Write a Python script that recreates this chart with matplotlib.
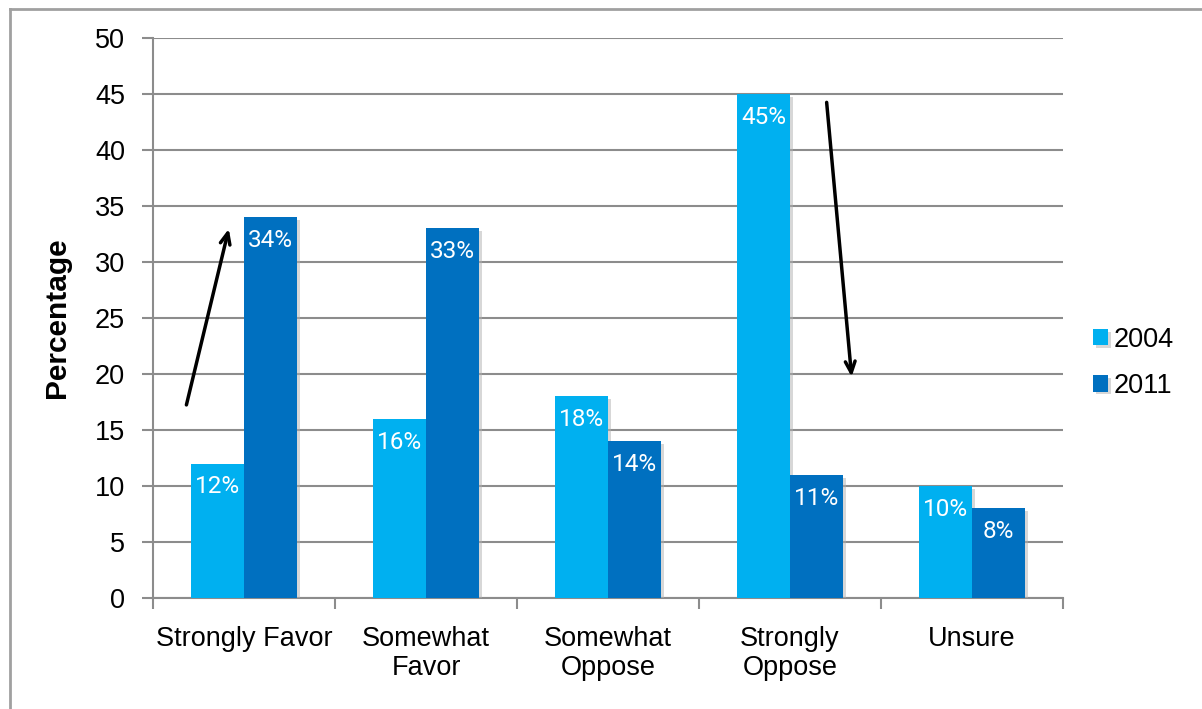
import matplotlib.pyplot as plt
import matplotlib.patheffects as pe
from matplotlib import font_manager
from matplotlib.lines import Line2D
import numpy as np

categories = ['Strongly Favor', 'Somewhat\nFavor', 'Somewhat\nOppose', 'Strongly\nOppose', 'Unsure']
vals_2004 = [12, 16, 18, 45, 10]
vals_2011 = [34, 33, 14, 11, 8]
labels_2004 = ['12%', '16%', '18%', '45%', '10%']
labels_2011 = ['34%', '33%', '14%', '11%', '8%']
yticks = [0, 5, 10, 15, 20, 25, 30, 35, 40, 45, 50]

# trend arrows (start, end) in data coords
arrows = [((-0.32, 17.0), (-0.08, 33.2)),
          ((3.20, 44.5), (3.34, 19.5))]

c2004 = '#00b0f0'
c2011 = '#0070c0'
grid_c = '#8c8c8c'

# pick a narrow font for the bar labels if there is one
names = set(f.name for f in font_manager.fontManager.ttflist)
narrow = 'Liberation Sans Narrow' if 'Liberation Sans Narrow' in names else 'Roboto'
base = 'Liberation Sans'

fig = plt.figure(figsize=(12.02, 7.09), dpi=100)
ax = fig.add_axes([153/1202, 1-598/709, 910/1202, 560/709])

# outer frame (only left and top edges are in view)
fig.add_artist(Line2D([10/1202, 10/1202], [0, 1-9/709], transform=fig.transFigure,
                      color='#a0a0a0', linewidth=2))
fig.add_artist(Line2D([10/1202, 1], [1-9/709, 1-9/709], transform=fig.transFigure,
                      color='#a0a0a0', linewidth=2))

x = np.arange(len(categories))
w = 0.29
shadow = [pe.SimplePatchShadow(offset=(2, -2), shadow_rgbFace='#b0b0b0', alpha=0.5), pe.Normal()]
b1 = ax.bar(x - w/2, vals_2004, w, color=c2004, label='2004', zorder=3, path_effects=shadow)
b2 = ax.bar(x + w/2, vals_2011, w, color=c2011, label='2011', zorder=3, path_effects=shadow)

for bars, labs in ((b1, labels_2004), (b2, labels_2011)):
    for r, t in zip(bars, labs):
        ax.annotate(t, (r.get_x() + r.get_width()/2, r.get_height()), xytext=(0, -8.5),
                    textcoords='offset points', ha='center', va='top', zorder=4,
                    family=[narrow, 'DejaVu Sans'], color='white', fontsize=17.5)

for (s, e) in arrows:
    ax.annotate('', xy=e, xytext=s, zorder=5,
                arrowprops=dict(arrowstyle='->,head_length=0.8,head_width=0.35', color='black', lw=2.5))

ax.set_xlim(-0.5, 4.5)
ax.set_ylim(0, 50)
ax.set_yticks(yticks)
ax.yaxis.grid(True, color=grid_c, linewidth=1.5, zorder=0)
ax.set_axisbelow(True)
for s in ['top', 'right']:
    ax.spines[s].set_visible(False)
for s in ['left', 'bottom']:
    ax.spines[s].set_color(grid_c)
    ax.spines[s].set_linewidth(1.5)

ax.set_xticks(np.arange(-0.5, 5, 1), minor=False)
ax.set_xticklabels([])
ax.set_xticks(x, minor=True)
ax.set_xticklabels(categories, minor=True, fontsize=19.5, family=base, linespacing=1.15)
ax.tick_params(axis='x', which='minor', length=0, pad=20)
ax.tick_params(axis='x', which='major', length=8, color=grid_c, width=1.5)
ax.tick_params(axis='y', length=8, color=grid_c, width=1.5, labelsize=19.5, pad=12)
for t in ax.get_yticklabels():
    t.set_family(base)

ax.set_ylabel('Percentage', fontsize=21.5, fontweight='bold', family=base, labelpad=17)

ax.legend(loc='center left', bbox_to_anchor=(1.033, 0.42), frameon=False, borderaxespad=0,
          borderpad=0, handlelength=0.55, handleheight=0.55, handletextpad=0.22,
          labelspacing=0.75, prop=dict(family=base, size=19.5))

fig.savefig('out.png', dpi=100)
